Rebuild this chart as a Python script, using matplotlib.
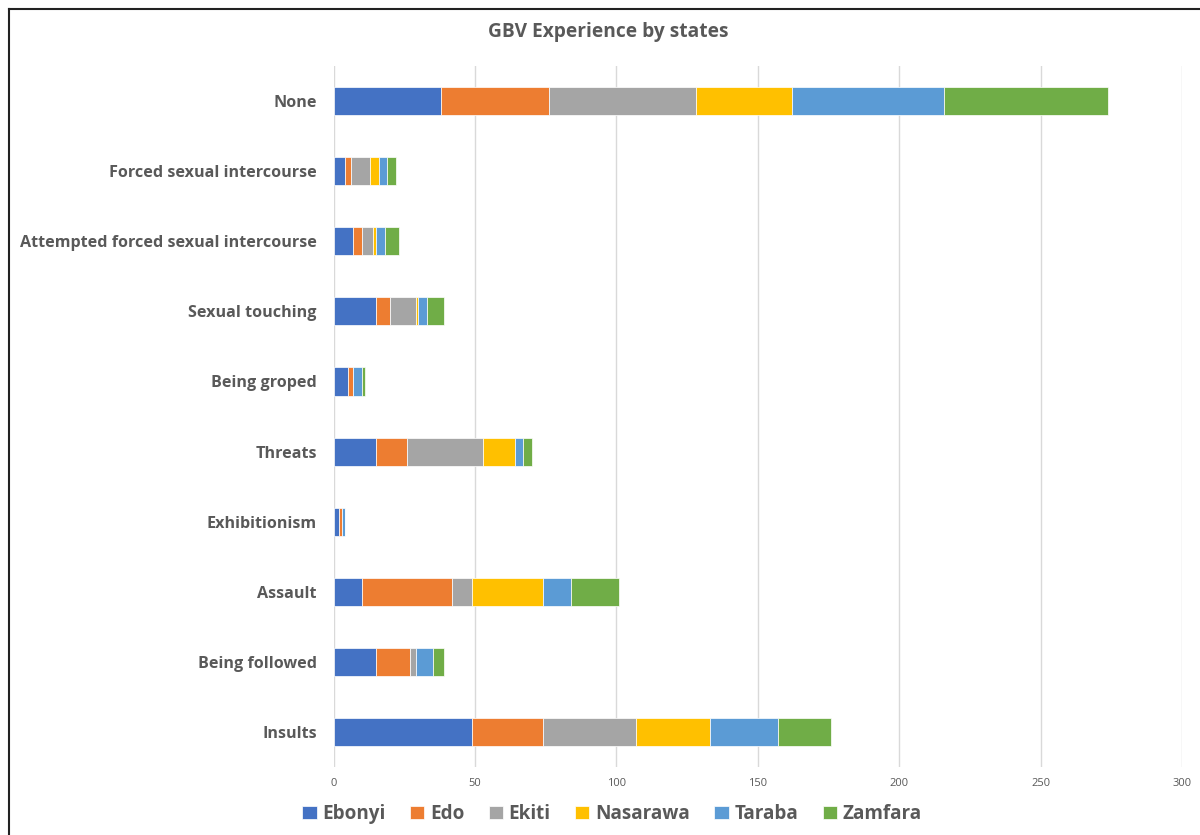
import matplotlib
matplotlib.use("Agg")
import matplotlib.pyplot as plt
from matplotlib.lines import Line2D
import numpy as np

plt.rcParams['font.family'] = ['Open Sans', 'DejaVu Sans']

# categories, top to bottom
categories = ['None', 'Forced sexual intercourse', 'Attempted forced sexual intercourse',
              'Sexual touching', 'Being groped', 'Threats', 'Exhibitionism',
              'Assault', 'Being followed', 'Insults']

states = ['Ebonyi', 'Edo', 'Ekiti', 'Nasarawa', 'Taraba', 'Zamfara']
colors = ['#4472C4', '#ED7D31', '#A5A5A5', '#FFC000', '#5B9BD5', '#70AD47']

# counts per state, same order as categories
ebonyi   = [38, 4, 7, 15, 5, 15, 2, 10, 15, 49]
edo      = [38, 2, 3, 5, 2, 11, 1, 32, 12, 25]
ekiti    = [52, 7, 4, 9, 0, 27, 0, 7, 2, 33]
nasarawa = [34, 3, 1, 1, 0, 11, 0, 25, 0, 26]
taraba   = [54, 3, 3, 3, 3, 3, 1, 10, 6, 24]
zamfara  = [58, 3, 5, 6, 1, 3, 0, 17, 4, 19]

xticks = [0, 50, 100, 150, 200, 250, 300]

series = [ebonyi, edo, ekiti, nasarawa, taraba, zamfara]
grey = '#595959'

fig = plt.figure(figsize=(12, 8.35), dpi=100)
ax = fig.add_axes([0.278, 0.0814, 0.707, 0.8395])

y = np.arange(len(categories))
left = np.zeros(len(categories))
for name, vals, c in zip(states, series, colors):
    ax.barh(y, vals, left=left, height=0.4, color=c, edgecolor='white',
            linewidth=0.5, label=name, zorder=3)
    left += np.array(vals)

ax.set_ylim(len(categories) - 0.5, -0.5)
ax.set_xlim(0, 300)
ax.set_xticks(xticks)
ax.set_yticks(y)
ax.set_yticklabels(categories, fontsize=11.6, fontweight='bold', color=grey)
ax.tick_params(axis='x', labelsize=8, colors=grey, length=0, pad=8)
ax.tick_params(axis='y', length=0, pad=12)
ax.grid(axis='x', color='#d9d9d9', linewidth=1, zorder=0)
for s in ax.spines.values():
    s.set_visible(False)

fig.text(0.507, 0.962, 'GBV Experience by states', ha='center', va='center',
         fontsize=13.8, fontweight='bold', color=grey)

fig.legend(loc='center', bbox_to_anchor=(0.51, 0.025), ncol=6, frameon=False,
           prop={'size': 13.6, 'weight': 'bold'}, labelcolor=grey,
           handlelength=0.75, handleheight=0.75, handletextpad=0.3, columnspacing=1.3)

# frame lines along the top and left edges
fig.add_artist(Line2D([0.0075, 0.0075], [0, 0.989], color='#222222', linewidth=1.5))
fig.add_artist(Line2D([0.0075, 1.0], [0.989, 0.989], color='#222222', linewidth=1.5))

fig.savefig('out.png', dpi=100, facecolor='white')
